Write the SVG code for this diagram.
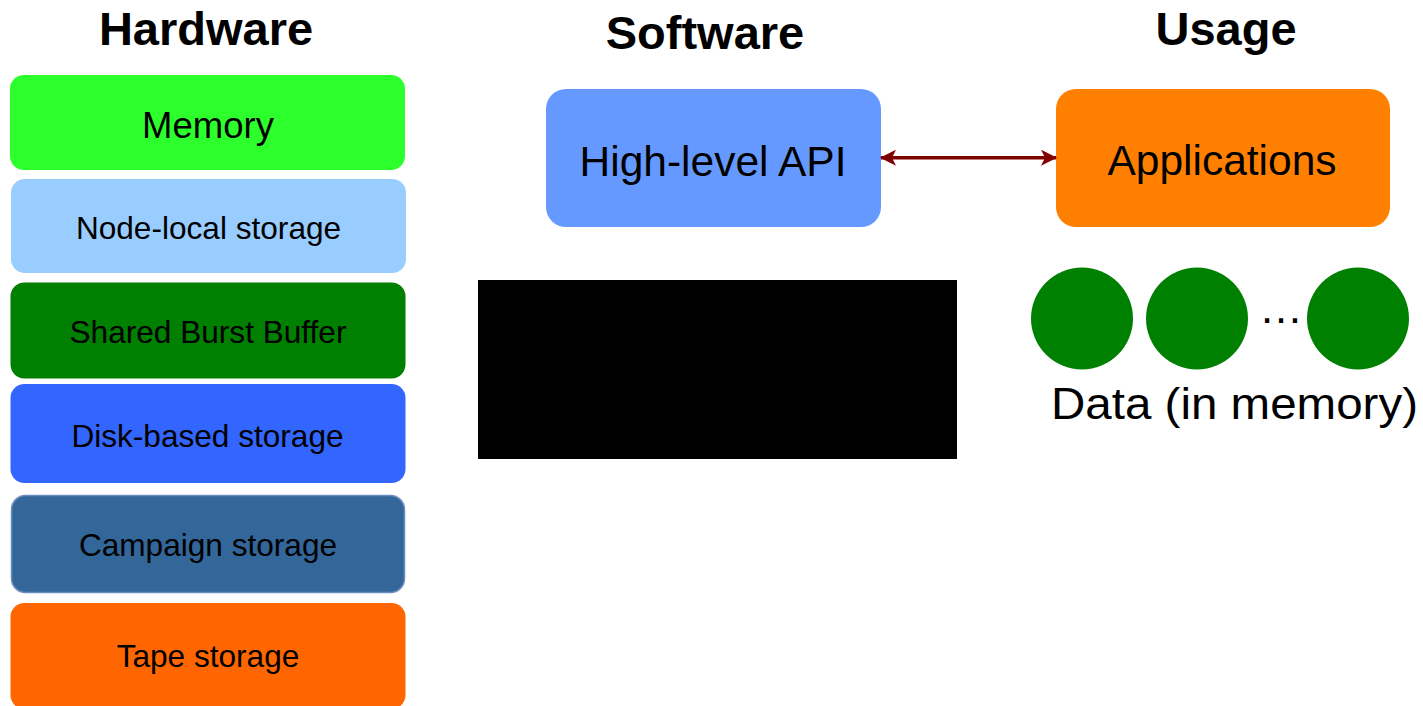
<svg xmlns="http://www.w3.org/2000/svg" width="1423" height="706" viewBox="0 0 1423 706">
<style>
.h{font-family:"Liberation Sans",Arial,sans-serif;font-weight:bold;font-size:47px;fill:#000;text-anchor:middle}
.t{font-family:"Liberation Sans",Arial,sans-serif;font-size:31.6px;fill:#000;text-anchor:middle}
.big{font-family:"Liberation Sans",Arial,sans-serif;font-size:42.5px;fill:#000;text-anchor:middle}
.conn{stroke:#800000;stroke-width:3.5;fill:none}
</style>
<defs>
<marker id="ah" viewBox="0 0 16 16" refX="15" refY="8" markerWidth="16" markerHeight="16" markerUnits="userSpaceOnUse" orient="auto-start-reverse">
<path d="M0,0 L16,8 L0,16 L4,8 Z" fill="#800000"/>
</marker>
</defs>
<rect width="1423" height="706" fill="#fff"/>
<g id="headings">
<text class="h" x="206" y="45">Hardware</text>
<text class="h" x="705" y="49">Software</text>
<text class="h" x="1226" y="45">Usage</text>
</g>
<g id="memory">
<rect x="10" y="75" width="395" height="95" rx="14" fill="#2CFF2C"/>
<text class="t" x="208" y="138" style="font-size:36.5px">Memory</text>
</g>
<g id="node-local">
<rect x="11" y="179" width="395" height="94" rx="14" fill="#99CCFF"/>
<text class="t" x="208.5" y="239">Node-local storage</text>
</g>
<g id="burst-buffer">
<rect x="10.5" y="282.5" width="395" height="96" rx="14" fill="#007F00"/>
<text class="t" x="208" y="343">Shared Burst Buffer</text>
</g>
<g id="disk">
<rect x="10.5" y="384" width="395" height="99" rx="14" fill="#3366FF"/>
<text class="t" x="207.5" y="447">Disk-based storage</text>
</g>
<g id="campaign">
<rect x="11.5" y="495.5" width="393" height="97" rx="14" fill="#336699" stroke="#6C8EBF" stroke-width="1.5"/>
<text class="t" x="208" y="556">Campaign storage</text>
</g>
<g id="tape">
<rect x="10.5" y="603" width="395" height="106" rx="14" fill="#FF6600"/>
<text class="t" x="208" y="667">Tape storage</text>
</g>
<g id="api">
<rect x="546" y="89" width="335" height="138" rx="20" fill="#6699FF"/>
<text class="big" x="713" y="176">High-level API</text>
</g>
<g id="applications">
<rect x="1056" y="89" width="334" height="138" rx="20" fill="#FF8000"/>
<text class="big" x="1222" y="175">Applications</text>
</g>
<g id="hidden">
<rect x="478" y="280" width="479" height="179" fill="#000"/>
</g>
<g id="data">
<circle cx="1082" cy="318.5" r="51" fill="#008000"/>
<circle cx="1197" cy="318.5" r="51" fill="#008000"/>
<circle cx="1358" cy="318.5" r="51" fill="#008000"/>
<text x="1281" y="323" style="font-family:'Liberation Sans',Arial,sans-serif;font-size:44px;text-anchor:middle">…</text>
<text x="1051" y="419" textLength="367" lengthAdjust="spacingAndGlyphs" style="font-family:'Liberation Sans',Arial,sans-serif;font-size:45px">Data (in memory)</text>
</g>
<g id="connectors">
<line class="conn" x1="881" y1="157.7" x2="1056" y2="157.7" marker-start="url(#ah)" marker-end="url(#ah)"/>
</g>
</svg>
